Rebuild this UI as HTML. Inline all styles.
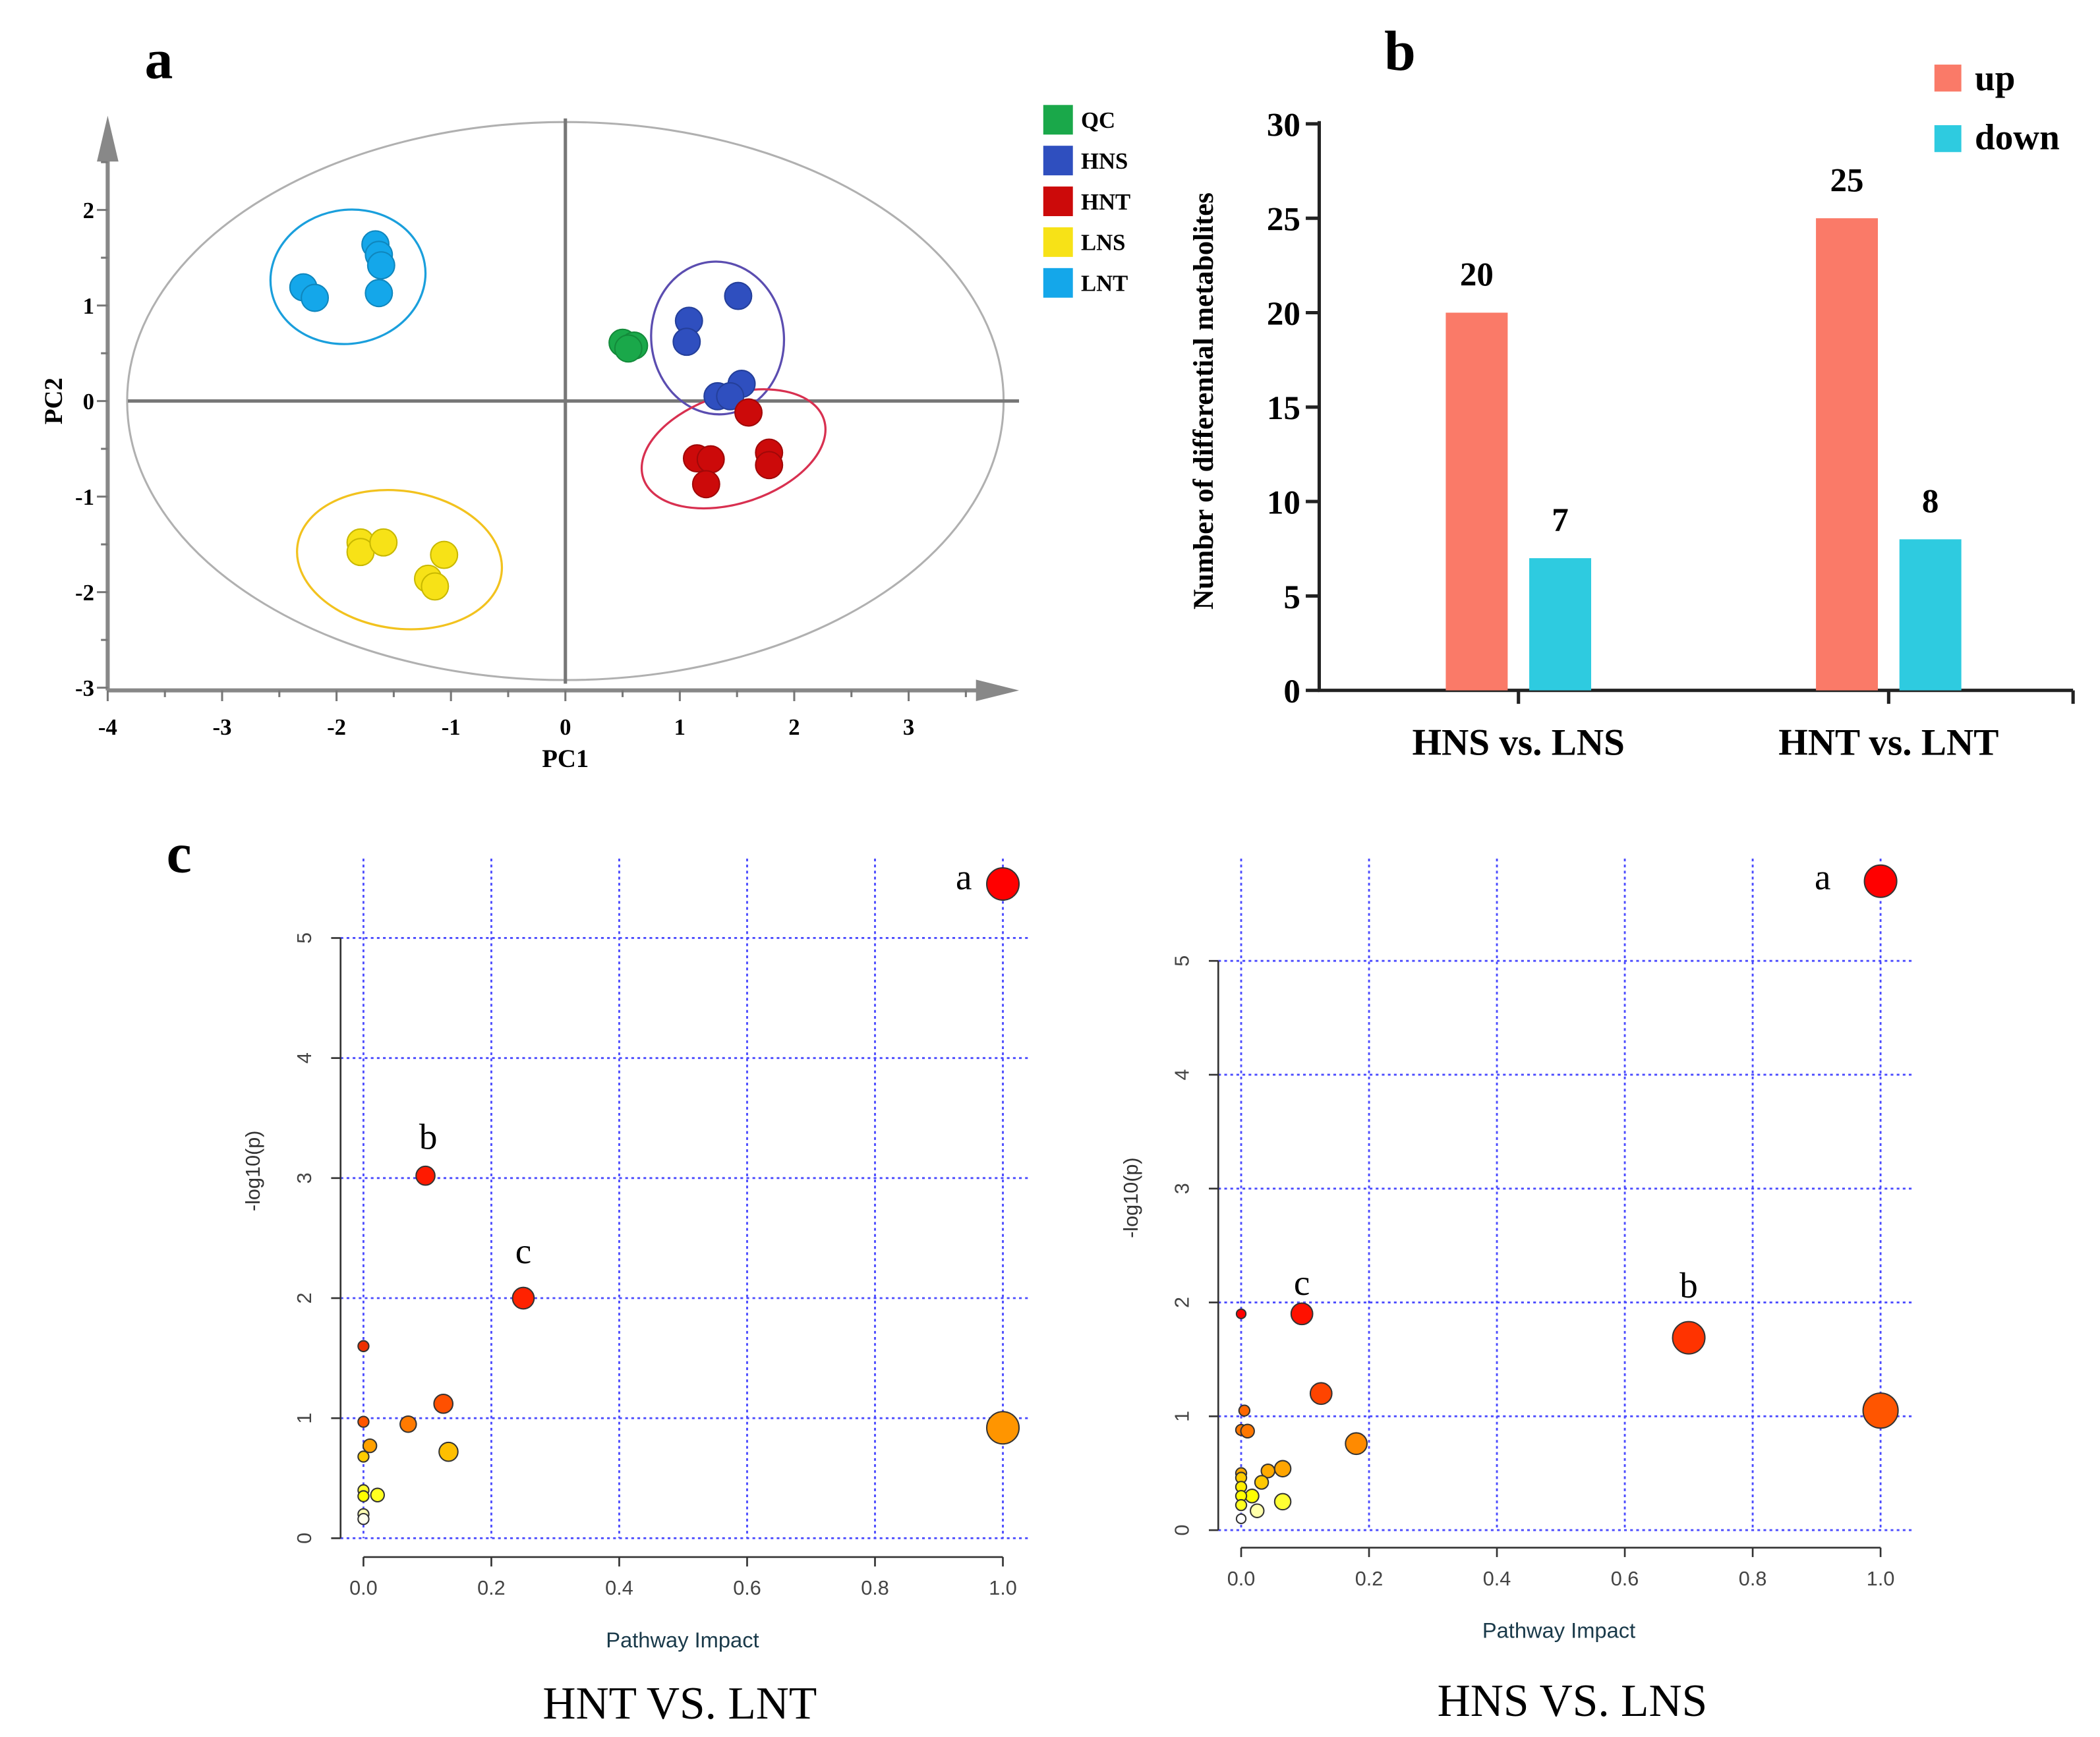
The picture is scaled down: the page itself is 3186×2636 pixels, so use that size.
<!DOCTYPE html>
<html><head><meta charset="utf-8"><style>
html,body{margin:0;padding:0;background:#fff;}
svg{display:block;}
text{font-family:"Liberation Serif",serif;}
.sans{font-family:"Liberation Sans",sans-serif;}
</style></head>
<body>
<svg id="fig" width="3186" height="2636" viewBox="0 0 1560 1290.7" preserveAspectRatio="none" xmlns="http://www.w3.org/2000/svg">
<rect x="0" y="0" width="1560" height="1291" fill="#fff"/>
<text x="118" y="58" font-size="42" font-weight="bold" text-anchor="middle">a</text>
<text x="1040" y="52" font-size="42" font-weight="bold" text-anchor="middle">b</text>
<text x="133" y="648" font-size="42" font-weight="bold" text-anchor="middle">c</text>
<g id="pca"></g>
<g id="bars"></g>
<g id="pw1"></g>
<g id="pw2"></g>
</svg>
<script>
// ---------- Panel a data ----------
const pcaGroups = ["QC","HNS","HNT","LNS","LNT"];
const pcaColors = ["#1aa84a","#2f4fbf","#cc0a0a","#f7e217","#14a7ea"];
const pcaStroke = ["#138a3a","#243f9a","#a00808","#c8b800","#0f86bd"];
const qcX = [0.50,0.60,0.55]; const qcY = [0.61,0.58,0.55];
const hnsX = [1.51,1.08,1.06,1.54,1.33,1.44]; const hnsY = [1.10,0.84,0.62,0.18,0.05,0.05];
const hntX = [1.60,1.15,1.27,1.23,1.78,1.78]; const hntY = [-0.12,-0.60,-0.61,-0.87,-0.54,-0.67];
const lnsX = [-1.79,-1.79,-1.59,-1.06,-1.20,-1.14]; const lnsY = [-1.48,-1.58,-1.48,-1.61,-1.86,-1.94];
const lntX = [-2.29,-2.19,-1.66,-1.63,-1.61,-1.63]; const lntY = [1.19,1.08,1.64,1.53,1.42,1.13];
const pcaXTicks = [-4,-3,-2,-1,0,1,2,3];
const pcaYTicks = [-3,-2,-1,0,1,2];
// ---------- Panel b data ----------
const barCats = ["HNS vs. LNS","HNT vs. LNT"];
const upVals = [20,25];
const downVals = [7,8];
const barTicks = [0,5,10,15,20,25,30];
// ---------- Panel c data ----------
const p1X = [1.0,0.097,0.25,0,0,0.07,0.125,0.133,1.0,0.01,0,0,0,0.022,0,0];
const p1Y = [5.45,3.02,2.0,1.6,0.97,0.95,1.12,0.72,0.92,0.77,0.68,0.40,0.35,0.36,0.20,0.16];
const p1R = [12,7,8,4,4,6,7,7,12,5,4,4,4,5,4,4];
const p1C = ["#ff0000","#ff1a00","#ff2200","#ee3000","#ff5500","#ff7a00","#ff5000","#ffbf00","#ff9500","#ffa000","#ffcc00","#ffff30","#ffff00","#ffff20","#ffffb0","#ffffee"];
const p2X = [1.0,0.70,0.095,0,0.125,1.0,0.18,0.005,0,0.01,0.065,0.042,0.032,0.017,0.065,0.025,0,0,0,0,0,0];
const p2Y = [5.7,1.69,1.9,1.9,1.2,1.05,0.76,1.05,0.88,0.87,0.54,0.52,0.42,0.30,0.25,0.17,0.10,0.50,0.46,0.38,0.30,0.22];
const p2R = [12,12,8,3.5,8,13,8,4,4,5,6,5,5,5,6,5,3.5,4,4,4,4,4];
const p2C = ["#ff0000","#ff3300","#ff1100","#ff0000","#ff4400","#ff5500","#ff8a00","#ff6600","#ff7700","#ff7700","#ffa500","#ffaa00","#ffc800","#ffff00","#ffff33","#ffffaa","#ffffff","#ffaa00","#ffcc00","#ffee00","#ffff00","#ffff20"];
const pwXTicks = [0,0.2,0.4,0.6,0.8,1.0];
const pwYTicks = [0,1,2,3,4,5];

const NS="http://www.w3.org/2000/svg";
function mk(parent,tag,attrs,txt){const e=document.createElementNS(NS,tag);for(const k in attrs)e.setAttribute(k,attrs[k]);if(txt!==undefined)e.textContent=txt;parent.appendChild(e);return e;}

// ---------- Panel a ----------
(function(){
  const g=document.getElementById('pca');
  const sx=v=>420+v*85, sy=v=>298-v*71;
  let e;
  e=mk(g,'ellipse',{cx:sx(0),cy:sy(0),rx:3.83*85,ry:2.92*71,fill:'none',stroke:'#b0b0b0','stroke-width':1.5});
  
  e=mk(g,'line',{x1:420,y1:88,x2:420,y2:508,stroke:'#777','stroke-width':2.5});
  
  e=mk(g,'line',{x1:95,y1:298,x2:757,y2:298,stroke:'#777','stroke-width':2.5});
  
  // axes
  e=mk(g,'line',{x1:80,y1:513,x2:730,y2:513,stroke:'#888','stroke-width':3});
  
  e=mk(g,'polygon',{points:'725,505 757,513 725,521',fill:'#888'});
  
  e=mk(g,'line',{x1:80,y1:513,x2:80,y2:115,stroke:'#888','stroke-width':3});
  
  e=mk(g,'polygon',{points:'72,120 80,86 88,120',fill:'#888'});
  
  for(let v=-4;v<=3.6;v+=0.5){mk(g,'line',{x1:sx(v),y1:513,x2:sx(v),y2:v%1===0?521:518,stroke:'#777','stroke-width':1.5});}
  for(let v=-3;v<=2.5;v+=0.5){mk(g,'line',{x1:80,y1:sy(v),x2:v%1===0?72:75,y2:sy(v),stroke:'#777','stroke-width':1.5});}
  pcaXTicks.forEach(v=>{e=mk(g,'text',{x:sx(v),y:546,'font-size':17,'font-weight':'bold','text-anchor':'middle'},String(v));
    });
  pcaYTicks.forEach(v=>{e=mk(g,'text',{x:70,y:sy(v)+6,'font-size':17,'font-weight':'bold','text-anchor':'end'},String(v));
    });
  e=mk(g,'text',{x:420,y:570,'font-size':19,'font-weight':'bold','text-anchor':'middle'},'PC1');
  
  e=mk(g,'text',{x:0,y:0,'font-size':19,'font-weight':'bold','text-anchor':'middle',transform:'translate(46,298) rotate(-90)'},'PC2');
  
  // group ellipses
  const ells=[[1.33,0.66,0.58,0.80,-5,'#5b4db0','hns-ellipse'],[1.47,-0.50,0.83,0.57,-18,'#d83050','hnt-ellipse'],[-1.45,-1.66,0.90,0.72,8,'#f2c21e','lns-ellipse'],[-1.90,1.30,0.68,0.70,-10,'#1a9fdc','lnt-ellipse']];
  ells.forEach(a=>{e=mk(g,'ellipse',{cx:sx(a[0]),cy:sy(a[1]),rx:a[2]*85,ry:a[3]*71,fill:'none',stroke:a[5],'stroke-width':1.6,transform:`rotate(${a[4]} ${sx(a[0])} ${sy(a[1])})`});
    });
  const xs=[qcX,hnsX,hntX,lnsX,lntX], ys=[qcY,hnsY,hntY,lnsY,lntY];
  xs.forEach((arr,gi)=>arr.forEach((x,i)=>{e=mk(g,'circle',{cx:sx(x),cy:sy(ys[gi][i]),r:10,fill:pcaColors[gi],stroke:pcaStroke[gi],'stroke-width':1});
    }));
  pcaGroups.forEach((n,i)=>{const y=78+i*30.3;
    e=mk(g,'rect',{x:775,y:y,width:22,height:22,fill:pcaColors[i]});
    
    e=mk(g,'text',{x:803,y:y+17,'font-size':17,'font-weight':'bold'},n);
    });
})();

// ---------- Panel b ----------
(function(){
  const g=document.getElementById('bars');
  const sy=v=>513-v*(421/30);
  const centers=[1128,1403];
  let e;
  e=mk(g,'line',{x1:980,y1:90,x2:980,y2:514,stroke:'#222','stroke-width':2.5});
  
  e=mk(g,'line',{x1:979,y1:513,x2:1540,y2:513,stroke:'#222','stroke-width':2.5});
  
  centers.concat([1540]).forEach(x=>mk(g,'line',{x1:x,y1:513,x2:x,y2:523,stroke:'#222','stroke-width':2.5}));
  barTicks.forEach(v=>{mk(g,'line',{x1:970,y1:sy(v),x2:980,y2:sy(v),stroke:'#222','stroke-width':2.5});
    e=mk(g,'text',{x:966,y:sy(v)+9,'font-size':25,'font-weight':'bold','text-anchor':'end'},String(v));
    });
  e=mk(g,'text',{x:0,y:0,'font-size':21,'font-weight':'bold','text-anchor':'middle',transform:'translate(901,298) rotate(-90)'},'Number of differential metabolites');
  
  barCats.forEach((c,i)=>{const cx=centers[i];
    e=mk(g,'rect',{x:cx-54,y:sy(upVals[i]),width:46,height:513-sy(upVals[i]),fill:'#fa7a68'});
    
    e=mk(g,'rect',{x:cx+8,y:sy(downVals[i]),width:46,height:513-sy(downVals[i]),fill:'#2ecbe0'});
    
    e=mk(g,'text',{x:cx-31,y:sy(upVals[i])-20,'font-size':25,'font-weight':'bold','text-anchor':'middle'},String(upVals[i]));
    
    e=mk(g,'text',{x:cx+31,y:sy(downVals[i])-20,'font-size':25,'font-weight':'bold','text-anchor':'middle'},String(downVals[i]));
    
    e=mk(g,'text',{x:cx,y:561,'font-size':28,'font-weight':'bold','text-anchor':'middle'},c);
    });
  e=mk(g,'rect',{x:1437,y:48,width:20,height:20,fill:'#fa7a68'});
  
  e=mk(g,'text',{x:1467,y:67,'font-size':27,'font-weight':'bold'},'up');
  
  e=mk(g,'rect',{x:1437,y:93,width:20,height:20,fill:'#2ecbe0'});
  
  e=mk(g,'text',{x:1467,y:111,'font-size':27,'font-weight':'bold'},'down');
  
})();

// ---------- Panel c ----------
function pathway(id,o,X,Y,R,C,labels,title){
  const g=document.getElementById(id);
  const sx=v=>o.x0+v*475, sy=v=>o.y0-v*o.py;
  let e;
  pwXTicks.forEach(v=>{e=mk(g,'line',{x1:sx(v),y1:o.gtop,x2:sx(v),y2:o.y0,stroke:'#4b4bff','stroke-width':1.4,'stroke-dasharray':'2,2.5'});
    });
  pwYTicks.forEach(v=>{e=mk(g,'line',{x1:o.ax,y1:sy(v),x2:o.gright,y2:sy(v),stroke:'#4b4bff','stroke-width':1.4,'stroke-dasharray':'2,2.5'});
    });
  e=mk(g,'line',{x1:o.ax,y1:sy(0),x2:o.ax,y2:sy(5),stroke:'#333','stroke-width':1.3});
  
  e=mk(g,'line',{x1:sx(0),y1:o.xaY,x2:sx(1),y2:o.xaY,stroke:'#333','stroke-width':1.3});
  
  pwXTicks.forEach(v=>{mk(g,'line',{x1:sx(v),y1:o.xaY,x2:sx(v),y2:o.xaY+7,stroke:'#333','stroke-width':1.3});
    e=mk(g,'text',{x:sx(v),y:o.xaY+28,'font-size':15,fill:'#444','text-anchor':'middle',class:'sans'},v.toFixed(1));
    });
  pwYTicks.forEach(v=>{mk(g,'line',{x1:o.ax,y1:sy(v),x2:o.ax-7,y2:sy(v),stroke:'#333','stroke-width':1.3});
    e=mk(g,'text',{x:0,y:0,'font-size':15,fill:'#444','text-anchor':'middle',class:'sans',transform:`translate(${o.ax-22},${sy(v)}) rotate(-90)`},String(v));
    });
  e=mk(g,'text',{x:0,y:0,'font-size':15,fill:'#333','text-anchor':'middle',class:'sans',transform:`translate(${o.ax-60},${o.ytitleY}) rotate(-90)`},'-log10(p)');
  
  e=mk(g,'text',{x:o.xtitleX,y:o.xaY+67,'font-size':16,fill:'#1a3a4a','text-anchor':'middle',class:'sans'},'Pathway Impact');
  
  X.forEach((x,i)=>{e=mk(g,'circle',{cx:sx(x),cy:sy(Y[i]),r:R[i],fill:C[i],stroke:'#333','stroke-width':1});
    });
  labels.forEach(l=>{e=mk(g,'text',{x:sx(X[l[1]])+l[2],y:sy(Y[l[1]])+l[3],'font-size':27,'text-anchor':'middle'},l[0]);
    });
  e=mk(g,'text',{x:o.titleX,y:o.titleY,'font-size':34,'text-anchor':'middle'},title);
  
}
pathway('pw1',{x0:270,y0:1143,py:89.2,ax:253,xaY:1157,gtop:638,gright:765,ytitleY:870,xtitleX:507,titleX:505,titleY:1277},
  p1X,p1Y,p1R,p1C,[['a',0,-29,4],['b',1,2,-20],['c',2,0,-26]],'HNT VS. LNT');
pathway('pw2',{x0:922,y0:1137,py:84.6,ax:905,xaY:1150,gtop:638,gright:1420,ytitleY:890,xtitleX:1158,titleX:1168,titleY:1275},
  p2X,p2Y,p2R,p2C,[['a',0,-43,6],['b',1,0,-30],['c',2,0,-14]],'HNS VS. LNS');
</script>
</body></html>
